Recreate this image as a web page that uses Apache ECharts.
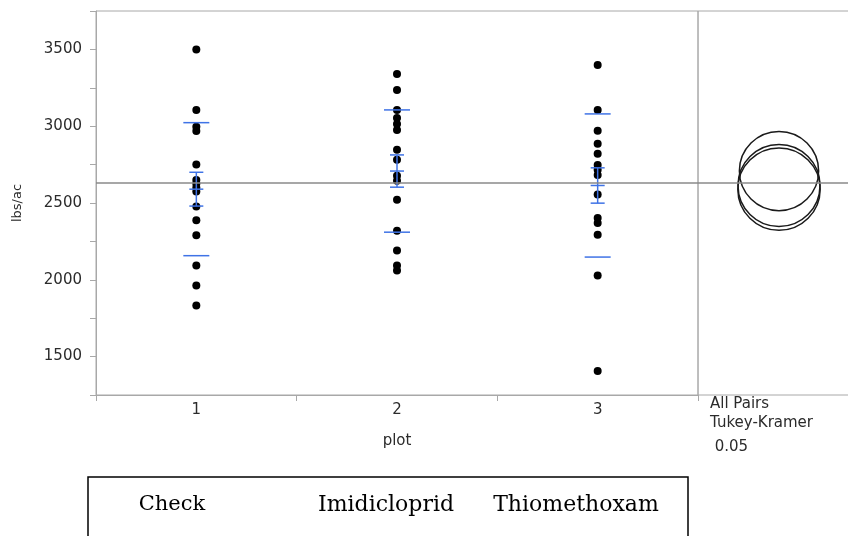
<!DOCTYPE html>
<html>
<head>
<meta charset="utf-8">
<script src="https://cdn.jsdelivr.net/npm/echarts@6/dist/echarts.min.js"></script>
<style>
html,body{margin:0;padding:0;background:#fff;}
#chart{width:848px;height:536px;}
</style>
</head>
<body>
<div id="chart"></div>
<script>
const categories = ['1', '2', '3'];
const treatmentNames = ['Check', 'Imidicloprid', 'Thiomethoxam'];
const checkVals = [3500, 3106, 2997, 2968, 2751, 2650, 2625, 2600, 2575, 2478, 2387, 2290, 2093, 1963, 1833];
const imidVals = [3340, 3236, 3106, 3054, 3015, 2976, 2846, 2781, 2677, 2645, 2521, 2320, 2190, 2093, 2060];
const thioVals = [3398, 3106, 2971, 2885, 2820, 2748, 2716, 2683, 2555, 2403, 2370, 2294, 2028, 1407];
const groupMeans = [2590, 2708, 2614];
const groupSD = [433, 398, 466];
const groupSE = [110, 105, 115];
const grandMean = 2632;
const circleRadii = [268, 258, 267];
const yTickLabels = [1500, 2000, 2500, 3000, 3500];
const comparisonText = ['All Pairs', 'Tukey-Kramer', ' 0.05'];

const groups = [checkVals, imidVals, thioVals];
const pointData = [];
groups.forEach((vals, i) => vals.forEach(v => pointData.push([i, v])));
const barData = groupMeans.map((m, i) => [i, m, groupSD[i], groupSE[i]]);
const circleData = groupMeans.map((m, i) => [0.5, m, circleRadii[i]]);

const frameColor = '#a8a8a8';
const blue = '#3f73e6';
const labelFont = 'DejaVu Sans';
const textColor = '#2b2b2b';

const chart = echarts.init(document.getElementById('chart'));
const meanLine = {
  silent: true, symbol: 'none', label: {show: false},
  lineStyle: {color: '#8a8a8a', type: 'solid', width: 1.5},
  data: [{yAxis: grandMean}]
};

chart.setOption({
  animation: false,
  grid: [
    {left: 96, right: 150, top: 11, bottom: 141, show: true, borderColor: frameColor, borderWidth: 1, outerBoundsMode: 'none'},
    {left: 698, width: 162, top: 11, bottom: 141, show: true, borderColor: frameColor, borderWidth: 1, outerBoundsMode: 'none'}
  ],
  xAxis: [
    {
      type: 'category', gridIndex: 0, data: categories, boundaryGap: true,
      name: 'plot', nameLocation: 'middle', nameGap: 39,
      nameTextStyle: {fontFamily: labelFont, fontSize: 15, color: textColor},
      axisLine: {lineStyle: {color: frameColor}},
      axisTick: {show: true, alignWithLabel: false, length: 6, lineStyle: {color: frameColor}},
      axisLabel: {fontFamily: labelFont, fontSize: 15, color: textColor, margin: 8}
    },
    {type: 'value', gridIndex: 1, min: 0, max: 1, show: false}
  ],
  yAxis: [
    {
      type: 'value', gridIndex: 0, min: 1250, max: 3750, interval: 250,
      name: 'lbs/ac', nameLocation: 'middle', nameGap: 72, nameRotate: 90,
      nameTextStyle: {fontFamily: labelFont, fontSize: 13, color: textColor},
      axisLine: {show: true, lineStyle: {color: frameColor}},
      axisTick: {show: true, length: 6, lineStyle: {color: frameColor}},
      splitLine: {show: false},
      axisLabel: {
        fontFamily: labelFont, fontSize: 15, color: textColor, margin: 14,
        formatter: v => yTickLabels.indexOf(v) >= 0 ? String(v) : ''
      }
    },
    {type: 'value', gridIndex: 1, min: 1250, max: 3750, show: false}
  ],
  graphic: [
    {type: 'text', left: 710, top: 397, style: {text: comparisonText[0], font: '15px "DejaVu Sans"', fill: textColor}},
    {type: 'text', left: 710, top: 416, style: {text: comparisonText[1], font: '15px "DejaVu Sans"', fill: textColor}},
    {type: 'text', left: 710, top: 440, style: {text: comparisonText[2], font: '15px "DejaVu Sans"', fill: textColor}},
    {type: 'rect', shape: {x: 88, y: 477, width: 600, height: 90}, style: {fill: '#fff', stroke: '#000', lineWidth: 1.5}},
    {type: 'text', x: 172, y: 505, style: {text: treatmentNames[0], font: '21px "DejaVu Serif"', fill: '#000', align: 'center', verticalAlign: 'middle'}},
    {type: 'text', x: 386, y: 505, style: {text: treatmentNames[1], font: '22px "DejaVu Serif"', fill: '#000', align: 'center', verticalAlign: 'middle'}},
    {type: 'text', x: 576, y: 505, style: {text: treatmentNames[2], font: '22px "DejaVu Serif"', fill: '#000', align: 'center', verticalAlign: 'middle'}}
  ],
  series: [
    {
      type: 'scatter', xAxisIndex: 0, yAxisIndex: 0, data: pointData,
      symbolSize: 8, itemStyle: {color: '#000', opacity: 1}, z: 3,
      markLine: meanLine
    },
    {
      type: 'custom', xAxisIndex: 0, yAxisIndex: 0, data: barData, z: 4,
      renderItem: function (params, api) {
        const x = api.value(0), m = api.value(1), sd = api.value(2), se = api.value(3);
        const pm = api.coord([x, m]);
        const sTop = api.coord([x, m + sd]);
        const sBot = api.coord([x, m - sd]);
        const eTop = api.coord([x, m + se]);
        const eBot = api.coord([x, m - se]);
        const st = {stroke: blue, lineWidth: 1.5};
        const L = 13, C = 7;
        const line = (x1, y1, x2, y2) => ({type: 'line', shape: {x1, y1, x2, y2}, style: st});
        return {
          type: 'group',
          children: [
            line(pm[0] - L, sTop[1], pm[0] + L, sTop[1]),
            line(pm[0] - L, sBot[1], pm[0] + L, sBot[1]),
            line(pm[0], eTop[1], pm[0], eBot[1]),
            line(pm[0] - C, eTop[1], pm[0] + C, eTop[1]),
            line(pm[0] - C, eBot[1], pm[0] + C, eBot[1]),
            line(pm[0] - C, pm[1], pm[0] + C, pm[1])
          ]
        };
      }
    },
    {
      type: 'custom', xAxisIndex: 1, yAxisIndex: 1, data: circleData, z: 4,
      renderItem: function (params, api) {
        const c = api.coord([api.value(0), api.value(1)]);
        const r = api.size([0, api.value(2)])[1];
        return {type: 'circle', shape: {cx: c[0], cy: c[1], r: r}, style: {fill: 'none', stroke: '#1a1a1a', lineWidth: 1.5}};
      },
      markLine: meanLine
    }
  ]
});
</script>
</body>
</html>
